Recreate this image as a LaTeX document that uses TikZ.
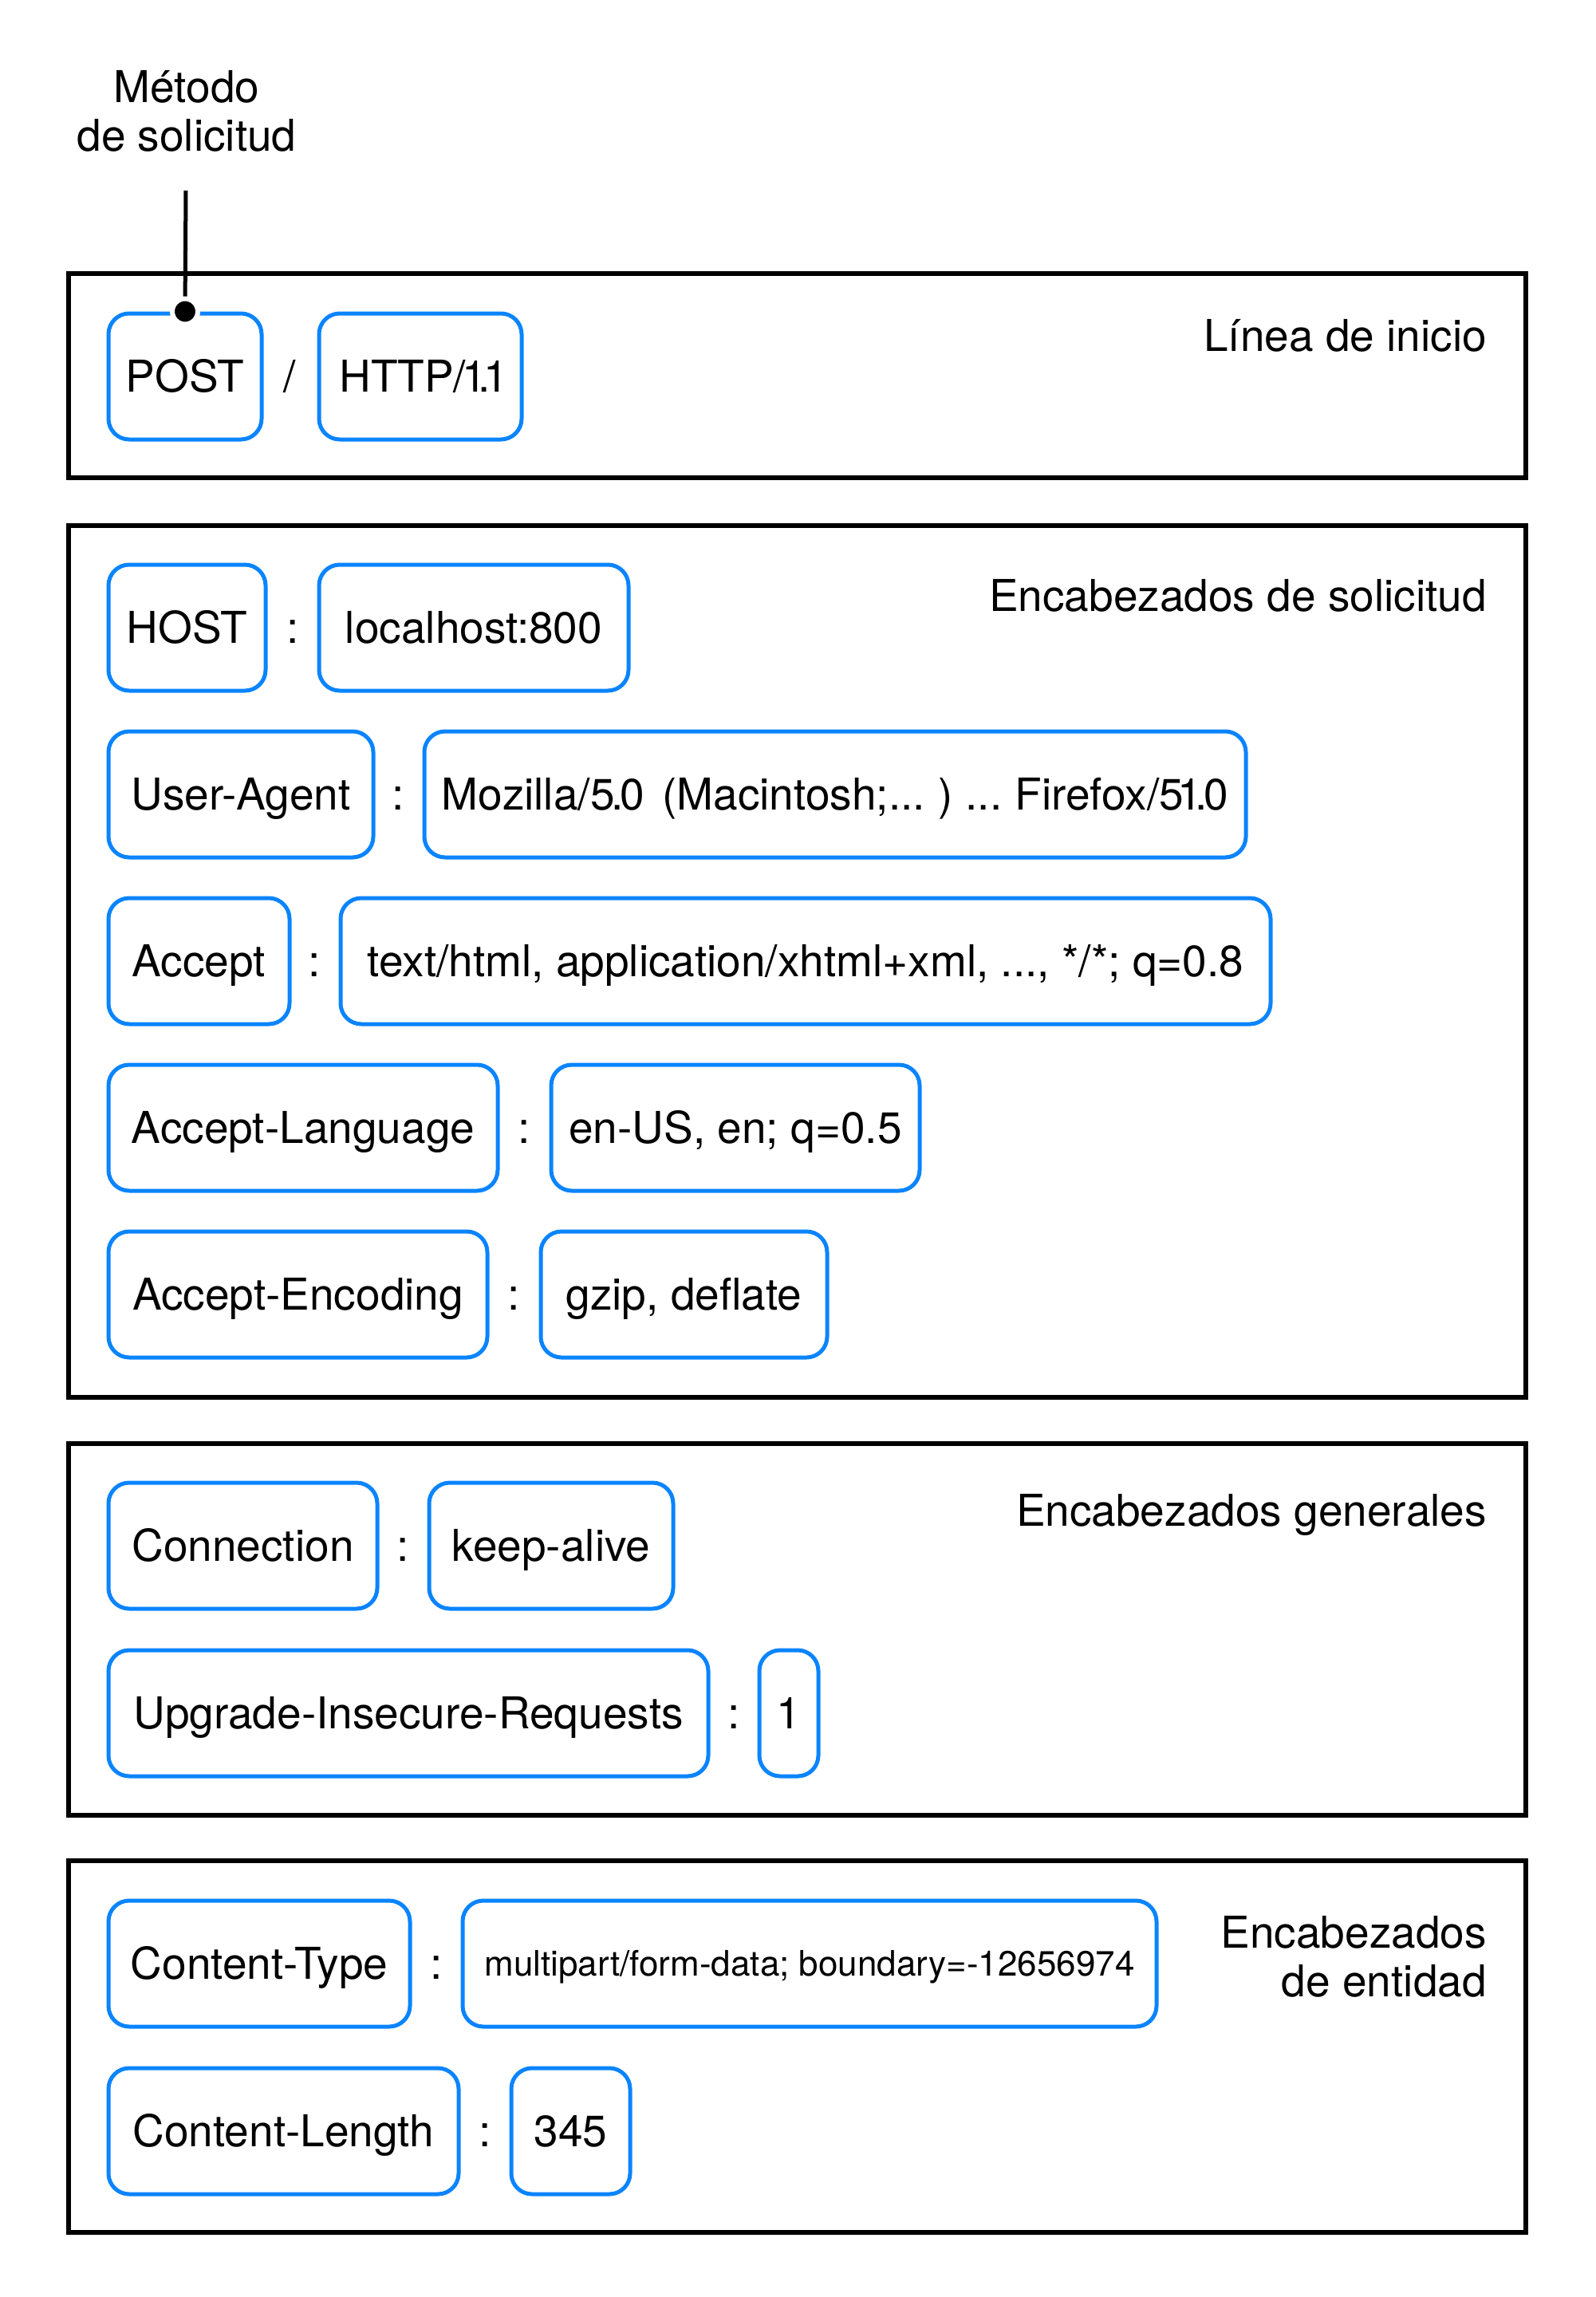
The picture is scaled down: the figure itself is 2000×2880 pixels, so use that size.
\documentclass[tikz,border=0pt]{standalone}
\usepackage{fontspec}
\setmainfont{TeX Gyre Heros}
\definecolor{fblue}{RGB}{10,132,255}
\begin{document}
\begin{tikzpicture}[x=1pt, y=-1pt,
  font=\fontsize{55pt}{61pt}\selectfont,
  fld/.style={draw=fblue, line width=5pt, rounded corners=26pt, minimum height=158pt, text height=39.5pt, text depth=0pt, inner sep=0pt},
  grp/.style={draw, line width=5.5pt},
  ttl/.style={anchor=base east, inner sep=0pt, align=right},
  sep/.style={text height=39.5pt, text depth=0pt, inner sep=0pt}]
\useasboundingbox (0,0) rectangle (2000,2880);
% the four groups
\draw[grp] (86,343) rectangle (1913,599);
\draw[grp] (86,659) rectangle (1913,1752);
\draw[grp] (86,1810) rectangle (1913,2276);
\draw[grp] (86,2333) rectangle (1913,2799);
\node[ttl] (t1) at (1864,440) {Línea de inicio};
\node[ttl] (t2) at (1864,766) {Encabezados de solicitud};
\node[ttl] (t3) at (1864,1913) {Encabezados generales};
\node[ttl] (t4) at (1864,2503) {Encabezados\\de entidad};
% start line
\node[fld, minimum width=192pt] (post) at (232,472) {POST};
\node[sep] (s0) at (363,472) {/};
\node[fld, minimum width=254pt] (http) at (527,472) {HTTP/\kern-5pt1\kern-10pt.\kern-9pt1\kern-8pt};
% request headers
\node[fld, minimum width=197pt] (host) at (234.5,787) {HOST};
\node[sep] (s1) at (367,787) {:};
\node[fld, minimum width=388pt] (hostval) at (594,787) {localhost:800};
\node[fld, minimum width=332pt] (ua) at (302,996) {User-Agent};
\node[sep] (s2) at (499,996) {:};
\node[fld, minimum width=1030pt] (uaval) at (1047,996) {\spaceskip=0.2em Mozilla/5\kern-4pt.\kern-4pt0\ \ (Macintosh;... ) ... Firefox/5\kern-8pt1\kern-8pt.\kern-4pt0};
\node[fld, minimum width=227pt] (acc) at (249.5,1205) {Accept};
\node[sep] (s3) at (394,1205) {:};
\node[fld, minimum width=1166pt] (accval) at (1010,1205) {text/html, application/xhtml+xml, ..., */*; q=0.8};
\node[fld, minimum width=488pt] (lang) at (380,1414) {Accept-Language};
\node[sep] (s4) at (657,1414) {:};
\node[fld, minimum width=462pt] (langval) at (922,1414) {en-US, en; q=0.5};
\node[fld, minimum width=475pt] (enc) at (373.5,1623) {Accept-Encoding};
\node[sep] (s5) at (644,1623) {:};
\node[fld, minimum width=359pt] (encval) at (857.5,1623) {gzip, deflate};
% general headers
\node[fld, minimum width=337pt] (conn) at (304.5,1938) {Connection};
\node[sep] (s6) at (505,1938) {:};
\node[fld, minimum width=306pt] (connval) at (691,1938) {keep-alive};
\node[fld, minimum width=752pt] (upg) at (512,2148) {Upgrade-Insecure-Requests};
\node[sep] (s7) at (920,2148) {:};
\node[fld, minimum width=74pt] (upgval) at (989,2148) {1};
% entity headers
\node[fld, minimum width=378pt] (ctype) at (325,2462) {Content-Type};
\node[sep] (s8) at (547,2462) {:};
\node[fld, minimum width=870pt, font=\fontsize{44pt}{50pt}\selectfont, text height=31.6pt] (ctypeval) at (1015,2462) {multipart/form-data; boundary=-12656974};
\node[fld, minimum width=439pt] (clen) at (355.5,2672) {Content-Length};
\node[sep] (s9) at (608,2672) {:};
\node[fld, minimum width=149pt] (clenval) at (715.5,2672) {345};
% request method callout
\node[align=center, inner sep=0pt, anchor=base] (metodo) at (234,189) {Método\\de solicitud};
\coordinate (mtop) at (233,239);
\draw[line width=5pt] (mtop) -- (post.north);
\fill[draw=white, line width=6pt] (post.north) circle (16pt);
\end{tikzpicture}
\end{document}
